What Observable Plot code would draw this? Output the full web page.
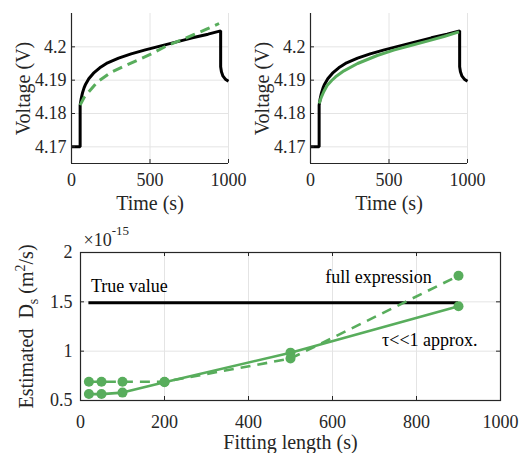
<!DOCTYPE html>
<html>
<head>
<meta charset="utf-8">
<script src="https://cdn.jsdelivr.net/npm/d3@7"></script>
<script src="https://cdn.jsdelivr.net/npm/@observablehq/plot@0.6"></script>
<style>
  html, body { margin: 0; padding: 0; background: #fff; }
  #wrap { position: relative; width: 523px; height: 453px; font-family: "Liberation Serif", "Times New Roman", serif; }
  #wrap svg { position: absolute; overflow: visible; }
</style>
</head>
<body>
<div id="wrap"></div>
<script>
// ---------- data ----------
// measured voltage response (black)
const measuredTime    = [0, 55, 55, 62, 70, 80, 90, 110, 140, 180, 230, 300, 380, 470, 570, 670, 770, 870, 950, 950, 955, 965, 980, 1000];
const measuredVoltage = [4.170, 4.170, 4.1825, 4.1845, 4.1862, 4.1877, 4.1888, 4.1904, 4.1921, 4.1937, 4.1952, 4.1966, 4.1979, 4.1991, 4.2003, 4.2015, 4.2027, 4.2038, 4.2048, 4.1940, 4.1925, 4.1912, 4.1903, 4.1897];
// full-expression fit (left panel, dashed green)
const fullFitTime    = [55, 80, 112, 166, 250, 335, 420, 505, 611, 700, 781, 860, 940];
const fullFitVoltage = [4.1825, 4.1848, 4.1866, 4.1895, 4.1923, 4.1942, 4.1960, 4.1978, 4.2004, 4.2021, 4.2037, 4.2053, 4.2070];
// tau<<1 approximation fit (right panel, solid green)
const approxFitTime    = [55, 70, 85, 106, 135, 160, 213, 300, 425, 530, 638, 750, 850, 946];
const approxFitVoltage = [4.1830, 4.1850, 4.1866, 4.1884, 4.1899, 4.1910, 4.1928, 4.1950, 4.1974, 4.1990, 4.2004, 4.2018, 4.2031, 4.2045];
// estimated diffusivity vs fitting length (x 1e-15 m^2/s)
const fittingLength = [20, 50, 100, 200, 500, 900];
const dsFull        = [0.69, 0.69, 0.69, 0.69, 0.925, 1.765];
const dsApprox      = [0.565, 0.565, 0.58, 0.685, 0.985, 1.455];
const dsTrue        = 1.49;
// ticks
const timeTicks    = [0, 500, 1000];
const voltageTicks = [4.17, 4.18, 4.19, 4.2];
const lengthTicks  = [0, 200, 400, 600, 800, 1000];
const dsTicks      = [0.5, 1, 1.5, 2];

// ---------- styles ----------
const GREEN = "#58ad5c";
const AXIS = "#262626";
const GRID = "#e4e4e4";
const FONT = "Liberation Serif";
const FONT_STACK = "'Liberation Serif', 'Times New Roman', serif";

const wrap = document.getElementById("wrap");

function place(svg, left, top) {
  d3.select(svg).selectAll("text").attr("font-family", FONT_STACK).style("font-family", FONT_STACK);
  svg.style.left = left + "px";
  svg.style.top = top + "px";
  wrap.appendChild(svg);
}

function voltagePanel({fitT, fitV, dash, left, width, marginLeft, marginRight}) {
  const measured = measuredTime.map((t, i) => ({t, v: measuredVoltage[i]}));
  const fit = fitT.map((t, i) => ({t, v: fitV[i]}));
  const frameH = 150;
  const frameW = width - marginLeft - marginRight;
  const svg = Plot.plot({
    width, height: 220,
    marginTop: 13, marginBottom: 57, marginLeft, marginRight,
    style: {fontFamily: FONT, fontSize: "18px", color: AXIS, background: "transparent", overflow: "visible"},
    x: {domain: [0, 1000]},
    y: {domain: [4.165, 4.21]},
    marks: [
      Plot.gridX(timeTicks, {stroke: GRID, strokeOpacity: 1}),
      Plot.gridY(voltageTicks, {stroke: GRID, strokeOpacity: 1}),
      Plot.line(measured, {x: "t", y: "v", stroke: "#000", strokeWidth: 3, strokeLinejoin: "miter", strokeLinecap: "butt"}),
      Plot.line(fit, {x: "t", y: "v", stroke: GREEN, strokeWidth: 3, strokeDasharray: dash, strokeLinecap: "butt"}),
      Plot.ruleX([0], {stroke: AXIS, strokeWidth: 1.2}),
      Plot.ruleY([4.165], {stroke: AXIS, strokeWidth: 1.2}),
      Plot.tickX(timeTicks, {x: d => d, stroke: AXIS, insetTop: frameH - 4}),
      Plot.tickY(voltageTicks, {y: d => d, stroke: AXIS, insetRight: frameW - 4}),
      Plot.axisX(timeTicks, {tickSize: 0, tickPadding: 9.5, tickFormat: d => String(d), label: null, fontSize: 18, fill: AXIS}),
      Plot.axisY(voltageTicks, {tickSize: 0, tickPadding: 5, tickFormat: d => String(d), label: null, fontSize: 18, fill: AXIS}),
      Plot.text(["Time (s)"], {frameAnchor: "bottom", text: d => d, dy: 46, lineAnchor: "bottom", textAnchor: "middle", fontSize: 20, fill: AXIS}),
      Plot.text(["Voltage (V)"], {frameAnchor: "left", text: d => d, rotate: -90, dx: -42, lineAnchor: "bottom", textAnchor: "middle", fontSize: 20, fill: AXIS})
    ]
  });
  place(svg, left, 0);
}

voltagePanel({fitT: fullFitTime, fitV: fullFitVoltage, dash: "10,6", left: 0, width: 245, marginLeft: 71, marginRight: 17});
voltagePanel({fitT: approxFitTime, fitV: approxFitVoltage, dash: null, left: 245, width: 278, marginLeft: 65, marginRight: 56});

// ---------- bottom panel ----------
{
  const full = fittingLength.map((x, i) => ({x, y: dsFull[i]}));
  const approx = fittingLength.map((x, i) => ({x, y: dsApprox[i]}));
  const width = 523, height = 233, mL = 80, mR = 23, mT = 32, mB = 53;
  const frameW = width - mL - mR, frameH = height - mT - mB;
  const svg = Plot.plot({
    width, height, marginLeft: mL, marginRight: mR, marginTop: mT, marginBottom: mB,
    style: {fontFamily: FONT, fontSize: "18px", color: AXIS, background: "transparent", overflow: "visible"},
    x: {domain: [0, 1000]},
    y: {domain: [0.5, 2]},
    marks: [
      Plot.gridX(lengthTicks, {stroke: GRID, strokeOpacity: 1}),
      Plot.gridY(dsTicks, {stroke: GRID, strokeOpacity: 1}),
      Plot.ruleY([dsTrue], {x1: fittingLength[0], x2: fittingLength[fittingLength.length - 1], stroke: "#000", strokeWidth: 3}),
      Plot.line(full, {x: "x", y: "y", stroke: GREEN, strokeWidth: 2.6, strokeDasharray: "10,7", strokeLinecap: "butt"}),
      Plot.line(approx, {x: "x", y: "y", stroke: GREEN, strokeWidth: 2.6}),
      Plot.dot(full, {x: "x", y: "y", r: 5, fill: GREEN}),
      Plot.dot(approx, {x: "x", y: "y", r: 5, fill: GREEN}),
      Plot.frame({stroke: AXIS, strokeWidth: 1.2}),
      Plot.tickX(lengthTicks, {x: d => d, stroke: AXIS, insetTop: frameH - 4}),
      Plot.tickX(lengthTicks, {x: d => d, stroke: AXIS, insetBottom: frameH - 4}),
      Plot.tickY(dsTicks, {y: d => d, stroke: AXIS, insetRight: frameW - 4}),
      Plot.tickY(dsTicks, {y: d => d, stroke: AXIS, insetLeft: frameW - 4}),
      Plot.axisX(lengthTicks, {tickSize: 0, tickPadding: 15, tickFormat: d => String(d), label: null, fontSize: 18, fill: AXIS}),
      Plot.axisY(dsTicks, {tickSize: 0, tickPadding: 8, tickFormat: d => String(d), label: null, fontSize: 18, fill: AXIS}),
      Plot.text(["Fitting length (s)"], {frameAnchor: "bottom", text: d => d, dy: 48, lineAnchor: "bottom", textAnchor: "middle", fontSize: 20, fill: AXIS}),
      Plot.text(["Estimated\u00a0\u00a0D"], {frameAnchor: "left", text: d => d, rotate: -90, dx: -48, lineAnchor: "bottom", textAnchor: "middle", fontSize: 20, fill: AXIS}),
      Plot.text(["\u00d710"], {frameAnchor: "top-left", text: d => d, dx: 3, dy: -7, lineAnchor: "bottom", textAnchor: "start", fontSize: 18, fill: AXIS}),
      Plot.text(["True value"], {x: 25, y: 1.595, text: d => d, lineAnchor: "bottom", textAnchor: "start", fontSize: 18, fill: "#000"}),
      Plot.text(["full expression"], {x: 583, y: 1.69, text: d => d, lineAnchor: "bottom", textAnchor: "start", fontSize: 18, fill: "#000"}),
      Plot.text(["\u03c4<<1 approx."], {x: 718, y: 1.056, text: d => d, lineAnchor: "bottom", textAnchor: "start", fontSize: 18, fill: "#000"})
    ]
  });
  // sub/superscripts
  d3.select(svg).selectAll("text")
    .filter(function () { return this.textContent === "Estimated\u00a0\u00a0D"; })
    .each(function () {
      const t = d3.select(this);
      t.append("tspan").attr("dy", 5).attr("font-size", 14).text("s");
      t.append("tspan").attr("dy", -5).text("\u00a0(m");
      t.append("tspan").attr("dy", -8).attr("font-size", 14).text("2");
      t.append("tspan").attr("dy", 8).text("/s)");
    });
  d3.select(svg).selectAll("text")
    .filter(function () { return this.textContent === "\u00d710"; })
    .each(function () {
      d3.select(this).append("tspan").attr("dy", -11).attr("font-size", 13).text("-15");
    });
  place(svg, 0, 220);
}
</script>
</body>
</html>
